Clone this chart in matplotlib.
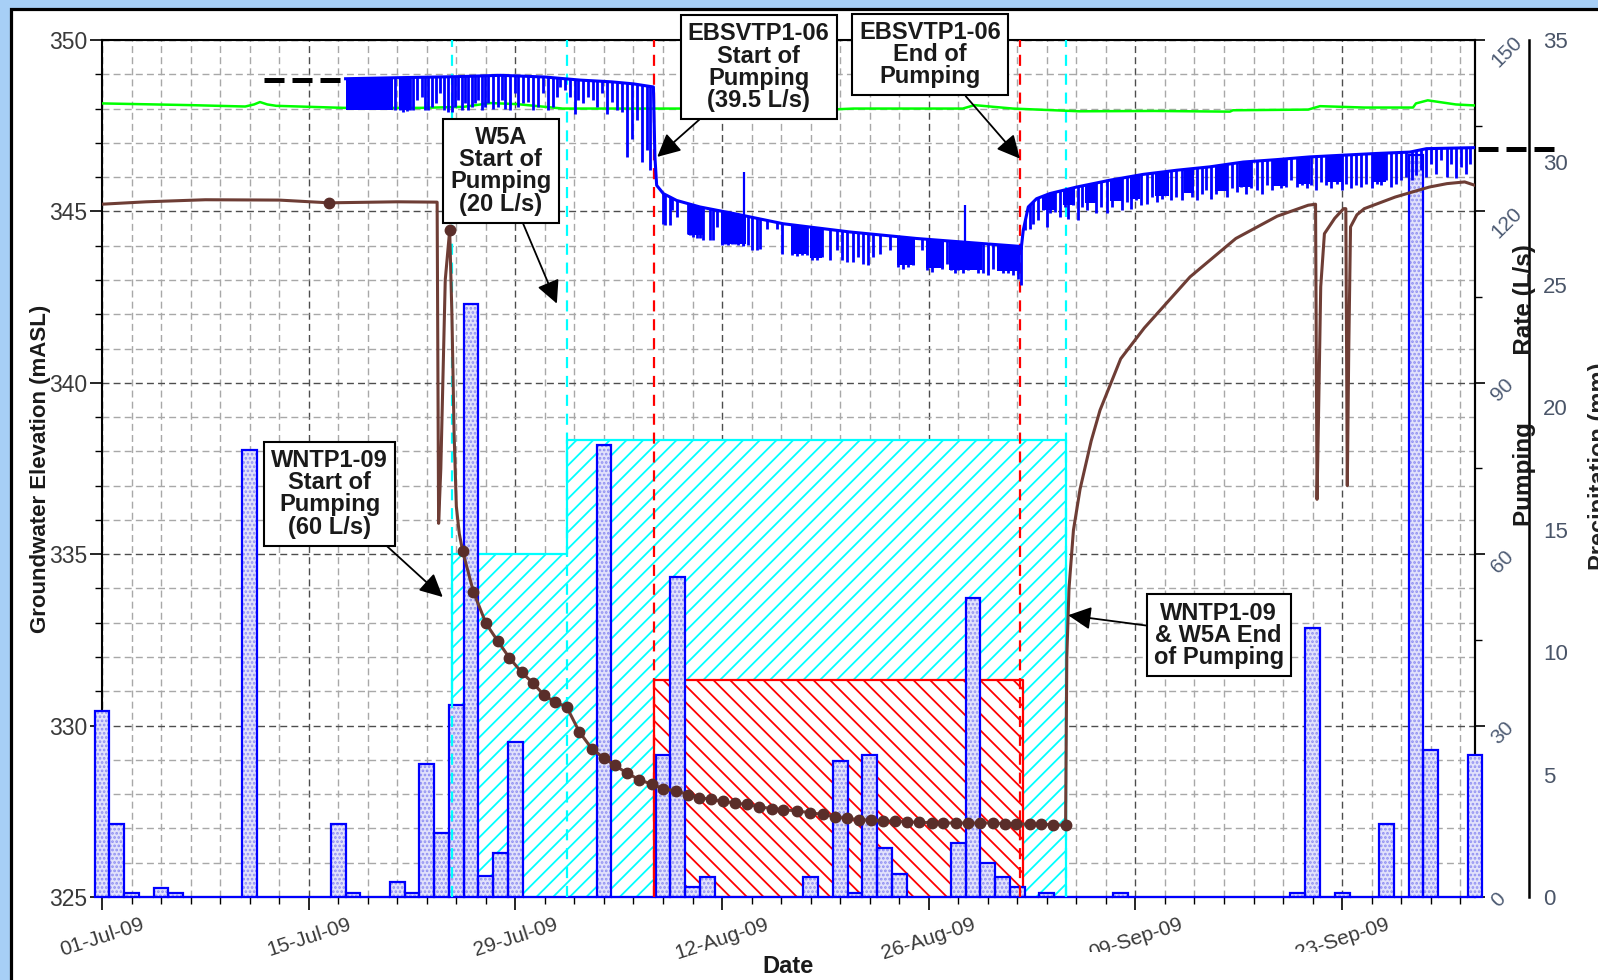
import numpy as np
import matplotlib
matplotlib.use("Agg")
import matplotlib.pyplot as plt
from matplotlib.patches import Polygon, Rectangle
from matplotlib.ticker import MultipleLocator, FuncFormatter
from datetime import date, timedelta

plt.rcParams['font.family'] = ['Liberation Sans', 'DejaVu Sans']
plt.rcParams['hatch.linewidth'] = 1.3

START = date(2009, 7, 1)   # day 0 of the x axis

# ---- daily precipitation (mm), one value per day from 01-Jul-09 ----
rain_mm = [7.6, 3.0, 0.15, 0, 0.35, 0.15, 0, 0, 0, 0,
           18.25, 0, 0, 0, 0, 0, 3.0, 0.15, 0, 0,
           0.6, 0.15, 5.45, 2.6, 7.85, 24.2, 0.85, 1.8, 6.35, 0,
           0, 0, 0, 0, 18.45, 0, 0, 0, 5.8, 13.05,
           0.4, 0.8, 0, 0, 0, 0, 0, 0, 0.8, 0,
           5.55, 0.15, 5.8, 2.0, 0.95, 0, 0, 0, 2.2, 12.2,
           1.4, 0.8, 0.4, 0, 0.15, 0, 0, 0, 0, 0.15,
           0, 0, 0, 0, 0, 0, 0, 0, 0, 0,
           0, 0.15, 11.0, 0, 0.15, 0, 0, 3.0, 0, 30.3,
           6.0, 0, 0, 5.8]

# ---- pumping rates (L/s) ----
combined_day = [23.68, 31.47, 65.27]     # WNTP1-09 then + W5A
combined_rate = [60, 80, 80]
ebs_day = [37.39, 62.36]                 # EBSVTP1-06
ebs_rate = [38, 38]

# ---- green well (mASL) ----
green_day = [0, 6.0, 9.7, 10.3, 10.7, 11.2, 11.8, 16.4, 21.6, 24.5, 26.3, 28.1, 31.2,
             37.6, 39.2, 49.8, 50.9, 58.3, 59.1, 61.7, 66.2, 71.3, 76.4, 76.6, 81.7,
             82.5, 85.5, 88.8, 89.0, 89.8, 91.7, 93.0]
green_h = [348.15, 348.10, 348.06, 348.12, 348.19, 348.12, 348.08, 348.02, 348.02, 348.05,
           348.16, 348.13, 348.00, 348.00, 348.00, 347.98, 348.00, 348.00, 348.10, 348.00,
           347.92, 347.93, 347.91, 347.95, 347.97, 348.07, 348.03, 348.03, 348.15, 348.24,
           348.12, 348.09]

# ---- blue well: upper envelope of logger record and drawdown dips ----
blue_env_day = [16.5, 20.0, 24.0, 27.0, 30.0, 32.4, 34.5, 36.0, 37.35, 37.45, 37.57, 38.02,
                38.92, 40.5, 42.76, 46.14, 50.66, 55.17, 59.69, 62.17, 62.26, 62.40, 62.74,
                63.30, 64.2, 66.01, 68.27, 70.52, 72.78, 75.04, 77.3, 79.55, 81.81, 84.07,
                86.33, 88.58, 89.71, 93.0]
blue_env_h = [348.87, 348.90, 348.93, 348.97, 348.92, 348.83, 348.78, 348.72, 348.63, 346.6,
              345.76, 345.52, 345.32, 345.13, 344.94, 344.64, 344.40, 344.21, 344.06, 343.98,
              343.90, 344.45, 345.13, 345.37, 345.52, 345.71, 345.91, 346.08, 346.20, 346.30,
              346.44, 346.51, 346.59, 346.64, 346.69, 346.73, 346.83, 346.86]

dip_a_day = [19.85, 20.19, 20.41, 20.64, 20.86, 21.09, 21.36, 21.65, 21.88, 22.11, 22.33, 22.62,
             22.90, 23.17, 23.46, 23.69, 23.91, 24.14, 24.36, 24.59, 24.81, 25.04, 25.27, 25.49,
             25.72, 25.94, 26.17, 26.51, 26.85, 27.07, 27.30, 27.64, 27.97, 28.20, 28.54, 28.88,
             29.22, 29.55, 29.89, 30.23, 30.53, 30.80, 31.02, 31.36, 31.70, 32.04, 32.26, 32.60,
             32.94, 33.28, 33.50, 33.84, 34.18, 34.52, 34.86, 35.20, 35.54, 35.88, 36.21, 36.55,
             36.89, 37.12]
dip_a_low = [347.95, 347.95, 347.90, 347.93, 347.95, 347.97, 348.24, 348.34, 347.95, 347.95,
             348.05, 348.15, 348.44, 347.95, 347.90, 347.90, 348.05, 348.24, 347.95, 348.15,
             347.95, 348.05, 348.15, 348.24, 347.95, 348.05, 348.15, 348.00, 348.05, 348.24,
             348.00, 347.95, 348.44, 348.05, 348.15, 348.19, 347.95, 348.05, 348.44, 347.95,
             348.05, 348.34, 348.63, 348.53, 348.34, 347.85, 348.24, 348.15, 348.34, 348.24,
             348.05, 348.44, 347.85, 348.19, 347.95, 347.90, 346.59, 347.12, 347.66, 346.44,
             346.78, 346.20]

dip_b_day = [38.02, 38.13, 38.47, 38.58, 38.92, 39.71, 39.83, 40.05, 40.28, 40.50, 40.73, 41.18,
             41.41, 41.63, 41.97, 42.20, 42.42, 42.65, 42.87, 43.10, 43.44, 43.78, 44.00, 44.34,
             44.57, 45.02, 45.69, 46.03, 46.71, 47.05, 47.39, 47.73, 48.06, 48.40, 48.74, 49.31,
             49.76, 50.10, 50.43, 50.89, 51.23, 51.56, 51.90, 52.24, 52.69, 53.37, 53.93, 54.27,
             54.61, 54.95, 55.51, 55.85, 56.19, 56.53, 56.87, 57.21, 57.54, 57.77, 58.00, 58.34,
             58.67, 59.01, 59.35, 59.69, 60.03, 60.37, 60.71, 61.04, 61.38, 61.72, 62.06, 62.22]
dip_b_low = [344.64, 344.60, 344.60, 345.03, 344.84, 344.35, 344.30, 344.26, 344.21, 344.21,
             344.16, 344.16, 344.16, 344.55, 344.01, 344.06, 344.01, 344.06, 344.06, 344.01,
             343.98, 344.01, 343.87, 343.87, 343.91, 344.50, 344.50, 343.77, 343.72, 343.69,
             343.72, 343.72, 343.57, 343.59, 343.67, 343.57, 343.87, 343.57, 343.53, 343.53,
             343.67, 343.48, 343.43, 343.67, 343.77, 343.87, 343.38, 343.33, 343.38, 343.43,
             343.87, 343.28, 343.23, 343.38, 343.33, 343.48, 343.28, 343.19, 343.28, 343.19,
             343.28, 343.48, 343.19, 343.19, 343.14, 343.33, 343.28, 343.19, 343.19, 343.14,
             343.04, 342.85]

dip_c_day = [62.51, 62.85, 63.08, 63.41, 63.75, 63.98, 64.20, 64.54, 64.88, 65.22, 65.45, 65.78,
             66.12, 66.35, 66.69, 67.03, 67.36, 67.70, 68.04, 68.38, 68.72, 69.06, 69.40, 69.73,
             70.07, 70.41, 70.75, 71.09, 71.43, 71.77, 72.11, 72.44, 72.78, 73.12, 73.46, 73.80,
             74.14, 74.48, 74.81, 75.15, 75.49, 75.83, 76.17, 76.51, 76.85, 77.18, 77.52, 77.86,
             78.20, 78.54, 78.88, 79.22, 79.55, 79.89, 80.23, 80.57, 80.91, 81.25, 81.59, 81.92,
             82.26, 82.60, 82.94, 83.28, 83.62, 83.96, 84.29, 84.63, 84.97, 85.31, 85.65, 85.99,
             86.33, 86.66, 87.00, 87.34, 87.68, 88.02, 88.36, 88.70, 89.03, 89.37, 89.71, 90.05,
             90.39, 90.73, 91.07, 91.40, 91.74, 92.08, 92.42, 92.65]
dip_c_low = [344.45, 344.50, 344.64, 344.74, 345.03, 344.55, 344.94, 344.99, 344.84, 345.13,
             344.79, 345.18, 344.74, 345.13, 345.03, 345.33, 344.94, 345.13, 344.94, 345.13,
             345.33, 345.03, 345.28, 345.08, 345.33, 345.18, 345.23, 345.42, 345.28, 345.37,
             345.52, 345.33, 345.42, 345.33, 345.57, 345.42, 345.33, 345.52, 345.62, 345.37,
             345.52, 345.62, 345.42, 345.67, 345.57, 345.71, 345.52, 345.67, 345.62, 345.52,
             345.76, 345.62, 345.81, 345.67, 345.71, 345.91, 345.71, 345.76, 345.67, 345.76,
             345.62, 345.86, 345.76, 345.67, 345.81, 345.62, 345.81, 345.67, 345.76, 345.71,
             345.81, 345.67, 345.81, 345.76, 345.91, 345.71, 345.81, 345.91, 346.00, 345.91,
             346.05, 346.20, 346.00, 346.39, 346.10, 346.49, 346.00, 346.39, 345.96, 346.30,
             346.10, 346.39]

# stretches where the logger trace is a solid band (start, end, lowest level)
block_start = [16.5, 20.1, 39.7, 41.95, 46.7, 47.95, 53.85, 55.8, 57.4, 60.6,
               63.7, 65.1, 66.6, 68.3, 69.6, 71.3, 73.3, 75.4, 77.0, 79.3, 81.0, 83.0, 86.0]
block_end = [19.74, 20.95, 40.75, 43.6, 47.75, 48.8, 55.1, 57.0, 59.6, 62.15,
             64.6, 65.9, 67.3, 69.1, 70.3, 72.3, 74.0, 76.3, 77.9, 80.2, 81.8, 84.0, 87.0]
block_low = [347.95, 347.95, 344.30, 344.05, 343.75, 343.65, 343.45, 343.35, 343.30, 343.25,
             345.05, 345.20, 345.25, 345.30, 345.35, 345.45, 345.55, 345.60, 345.70, 345.75,
             345.80, 345.85, 345.85]

# short upward spikes
spike_day = [43.48, 58.45]
spike_top = [346.15, 345.18]
spike_low = [344.0, 344.1]

# static levels (black dashed)
static_pre_day = [11.0, 16.46]
static_pre_h = 348.83
static_post_day = [93.2, 98.6]
static_post_h = 346.81

# ---- brown well: logger trace and manual readings ----
brown_pre_day = [0, 3, 7, 12, 15.38, 20, 22.7, 22.8, 22.95, 23.25, 23.55, 23.7, 23.85, 24.0, 24.2]
brown_pre_h = [345.21, 345.28, 345.34, 345.33, 345.25, 345.28, 345.27, 335.9, 337.5, 343.0,
               344.45, 342.0, 338.5, 336.4, 335.6]
manual_day = [15.38, 23.55, 24.43, 25.16, 26.01, 26.80, 27.59, 28.43, 29.17, 29.94, 30.68, 31.48,
              32.33, 33.17, 34.00, 34.74, 35.54, 36.40, 37.23, 38.02, 38.88, 39.72, 40.46,
              41.24, 42.04, 42.88, 43.67, 44.52, 45.36, 46.15, 47.05, 47.96, 48.81, 49.65,
              50.44, 51.29, 52.06, 52.91, 53.71, 54.50, 55.35, 56.19, 56.98, 57.83, 58.66,
              59.46, 60.32, 61.14, 61.93, 62.83, 63.62, 64.41, 65.27]
manual_h = [345.25, 344.45, 335.09, 333.90, 332.98, 332.47, 331.98, 331.55, 331.25, 330.89,
            330.69, 330.54, 329.82, 329.33, 329.05, 328.84, 328.62, 328.42, 328.29, 328.16,
            328.09, 327.99, 327.90, 327.85, 327.79, 327.74, 327.70, 327.63, 327.58, 327.55,
            327.51, 327.46, 327.41, 327.34, 327.29, 327.26, 327.24, 327.22, 327.21, 327.19,
            327.18, 327.17, 327.16, 327.16, 327.16, 327.16, 327.16, 327.14, 327.14, 327.12,
            327.12, 327.11, 327.09]
brown_post_day = [65.35, 65.5, 65.8, 66.25, 67.0, 67.6, 69.0, 70.6, 73.7, 76.8, 79.6, 81.7,
                  82.2, 82.3, 82.42, 82.55, 82.8, 83.5, 84.1, 84.25, 84.35, 84.45, 84.57, 85.0,
                  85.5, 87.6, 89.9, 91.1, 92.3, 93.0]
brown_post_h = [332.0, 334.0, 335.7, 336.9, 338.3, 339.2, 340.7, 341.6, 343.09, 344.21,
                344.86, 345.18, 345.21, 336.6, 339.5, 342.8, 344.35, 344.8, 345.08, 345.08,
                337.0, 341.0, 344.55, 344.9, 345.08, 345.42, 345.71, 345.81, 345.86, 345.76]

# ---- call-outs: text, arrow tip (day, mASL), box centre (day, mASL) ----
notes = [
    ("W5A\nStart of\nPumping\n(20 L/s)", (30.81, 342.31), (27.02, 346.18)),
    ("EBSVTP1-06\nStart of\nPumping\n(39.5 L/s)", (37.61, 346.59), (44.48, 349.21)),
    ("EBSVTP1-06\nEnd of\nPumping", (62.17, 346.54), (56.07, 349.57)),
    ("WNTP1-09\nStart of\nPumping\n(60 L/s)", (23.08, 333.75), (15.42, 336.76)),
    ("WNTP1-09\n& W5A End\nof Pumping", (65.44, 333.22), (75.64, 332.64)),
]

W, H = 1598, 980
fig = plt.figure(figsize=(W / 100, H / 100), dpi=100)
fig.patch.set_facecolor('#a7cff6')
fig.add_artist(Rectangle((11 / W, -0.1), 1.2, 1.1 - 9 / H, transform=fig.transFigure,
                         facecolor='white', edgecolor='black', lw=2.3, zorder=-10))

# base axes: elevation scale and grid
ax = fig.add_axes([102 / W, 1 - 897 / H, (1475 - 102) / W, (897 - 40) / H])
ax.set_xlim(0, 93)
ax.set_ylim(325, 350)
ax.xaxis.set_major_locator(MultipleLocator(14))
ax.xaxis.set_minor_locator(MultipleLocator(2))
ax.yaxis.set_major_locator(MultipleLocator(5))
ax.yaxis.set_minor_locator(MultipleLocator(1))
ax.xaxis.set_major_formatter(FuncFormatter(
    lambda x, pos: (START + timedelta(days=int(round(x)))).strftime('%d-%b-%y')))
ax.grid(which='major', color='#4d4d4d', ls=(0, (5, 3)), lw=1.0)
ax.grid(which='minor', color='#a8a8a8', ls=(0, (5, 3)), lw=1.0)
ax.set_axisbelow(True)
ax.tick_params(which='major', direction='out', length=9, width=1.2, colors='black',
               labelcolor='#3a3a3a')
ax.tick_params(which='minor', direction='out', length=5, width=1.0)
ax.tick_params(axis='y', labelsize=16.5, pad=1.5)
ax.tick_params(axis='x', labelsize=15, pad=4, labelrotation=18)
for s in ax.spines.values():
    s.set_linewidth(1.5)

# pumping rate axis
axp = ax.twinx()
axp.set_ylim(0, 150)
axp.yaxis.set_major_locator(MultipleLocator(30))
axp.yaxis.set_minor_locator(MultipleLocator(15))
axp.tick_params(axis='y', which='major', direction='out', length=7, width=1.2,
                labelsize=15, labelcolor='#4d5b73', labelrotation=45, pad=2)
axp.tick_params(axis='y', which='minor', direction='out', length=5, width=1.0)
for s in ['top', 'bottom', 'left']:
    axp.spines[s].set_visible(False)
axp.spines['right'].set_linewidth(1.5)
axp.fill_between(combined_day, combined_rate, step='post', facecolor='white',
                 edgecolor='#00ffff', hatch='//', lw=1.6, zorder=1)
axp.fill_between(ebs_day, ebs_rate, step='post', facecolor='white',
                 edgecolor='#ff0000', hatch='\\\\', lw=1.6, zorder=2)

# precipitation axis
axr = ax.twinx()
axr.spines['right'].set_position(('axes', (1529 - 102) / (1475 - 102)))
axr.set_ylim(0, 35)
axr.yaxis.set_major_locator(MultipleLocator(5))
axr.tick_params(axis='y', length=0, pad=10, labelsize=16, labelcolor='#4a5568')
for s in ['top', 'bottom', 'left']:
    axr.spines[s].set_visible(False)
axr.spines['right'].set_linewidth(1.8)
rain_day = np.arange(len(rain_mm))
axr.bar(rain_day, rain_mm, width=1.0, facecolor='#e2e2fb', edgecolor='#8f8ff2',
        linewidth=0, hatch='....', clip_on=False, zorder=2)
axr.bar(rain_day, rain_mm, width=1.0, fill=False, edgecolor='#0000ff',
        linewidth=1.6, clip_on=False, zorder=3)

# water-level traces on top
axl = ax.twinx()
axl.set_ylim(ax.get_ylim())
axl.set_axis_off()

ax.set_zorder(0)
axp.set_zorder(1)
axr.set_zorder(2)
axl.set_zorder(3)

for d in [23.68, 31.47, 65.27]:
    axl.axvline(d, color='#00ffff', ls=(0, (5, 3.5)), lw=1.6, zorder=1)
for d in [37.39, 62.2]:
    axl.axvline(d, color='#ff0000', ls=(0, (5, 3.5)), lw=1.6, zorder=1)

axl.plot(green_day, green_h, color='#00ff00', lw=1.8, zorder=2)

env_poly = Polygon(np.column_stack([blue_env_day + [blue_env_day[-1], blue_env_day[0]],
                                    blue_env_h + [325, 325]]),
                   closed=True, transform=axl.transData)
dip_day = dip_a_day + dip_b_day + dip_c_day
dip_low = dip_a_low + dip_b_low + dip_c_low
dips = axl.vlines(dip_day, dip_low, 350, colors='#0000ff', lw=2.0, zorder=3)
dips.set_clip_path(env_poly)
for s, e, lo in zip(block_start, block_end, block_low):
    blk = axl.fill_between([s, e], lo, 350, color='#0000ff', lw=0, zorder=3)
    blk.set_clip_path(env_poly)
axl.vlines(spike_day, spike_low, spike_top, colors='#0000ff', lw=1.6, zorder=3)
axl.plot(blue_env_day, blue_env_h, color='#0000ff', lw=2.2, zorder=3)

axl.plot(static_pre_day, [static_pre_h] * 2, color='black', lw=3.6, ls=(0, (4, 1.6)),
         clip_on=False, zorder=4)
axl.plot(static_post_day, [static_post_h] * 2, color='black', lw=3.6, ls=(0, (4, 1.6)),
         clip_on=False, zorder=4)

brown_day = brown_pre_day + manual_day[2:] + brown_post_day
brown_h = brown_pre_h + manual_h[2:] + brown_post_h
axl.plot(brown_day, brown_h, color='#6e3d35', lw=2.2, zorder=5)
axl.plot(manual_day, manual_h, 'o', ms=7.5, color='#5a2e2a', zorder=6)

for txt, tip, box in notes:
    axl.annotate(txt, xy=tip, xytext=box, ha='center', va='center', fontsize=17,
                 fontweight='bold', color='#1a1a1a', linespacing=0.95,
                 bbox=dict(boxstyle='square,pad=0.3', fc='white', ec='black', lw=1.5),
                 arrowprops=dict(arrowstyle='-|>,head_length=0.5,head_width=0.25',
                                 color='black', lw=1.3, mutation_scale=28,
                                 shrinkA=0, shrinkB=0),
                 annotation_clip=False, zorder=10)

# axis titles
fig.text(41 / W, 1 - 469 / H, 'Groundwater Elevation (mASL)', rotation=90, ha='center',
         va='center', fontsize=16, fontweight='bold', color='#1a1a1a')
fig.text(1524 / W, 1 - 385 / H, 'Pumping' + ' ' * 10 + 'Rate (L/s)', rotation=90,
         ha='center', va='center', fontsize=17.5, fontweight='bold', color='#1a1a1a')
fig.text(1588 / W, 1 - 466 / H, 'Precipitation (mm)', rotation=90, ha='left', va='center',
         fontsize=17, fontweight='bold', color='#222222')
fig.text(788 / W, 1 - 966 / H, 'Date', ha='center', va='center', fontsize=17,
         fontweight='bold', color='#1a1a1a')

# the lower part of the September labels is hidden in the source picture
fig.add_artist(Rectangle((1075 / W, 0), 345 / W, 28 / H, transform=fig.transFigure,
                         facecolor='white', edgecolor='none', zorder=20))

fig.savefig('out.png', dpi=100, facecolor=fig.get_facecolor())
